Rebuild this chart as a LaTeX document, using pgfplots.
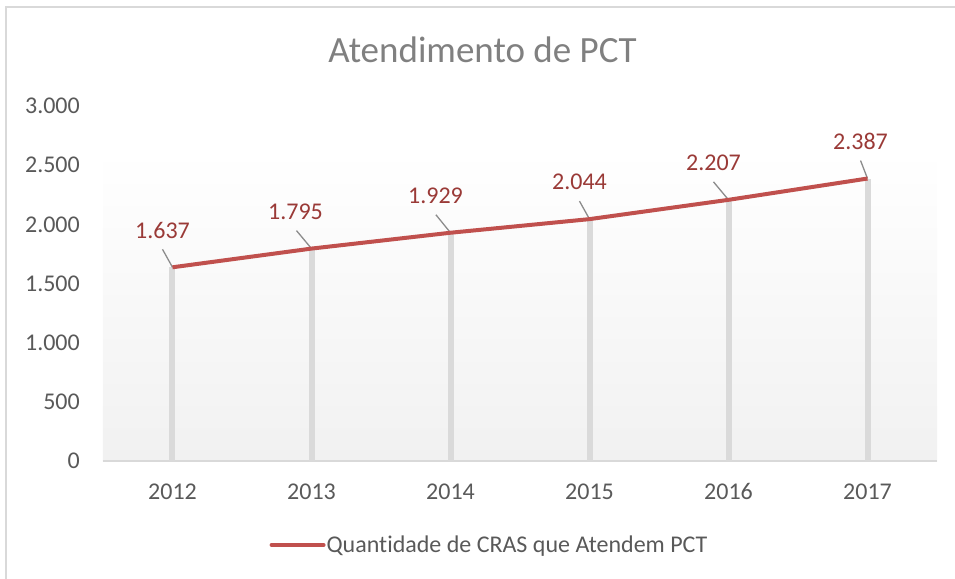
\documentclass[border=0pt]{standalone}
\usepackage{pgfplots}
\pgfplotsset{compat=1.18}
\usepackage{pgfplotstable}
\usepackage{fontspec}
\setmainfont{Carlito}[Ligatures=NoCommon]
\definecolor{linered}{HTML}{C0504D}
\definecolor{labelred}{HTML}{9A3A37}
\definecolor{tickgray}{HTML}{595959}
\definecolor{titlegray}{HTML}{808080}
\definecolor{axgray}{HTML}{D9D9D9}
\definecolor{dropgray}{HTML}{DADADA}
\definecolor{bggray}{HTML}{F1F1F1}
\definecolor{leadgray}{HTML}{8C8C8C}
\definecolor{bordergray}{HTML}{D9D9D9}

\pgfplotstableread{
x y lbl lx u
0 1637 1.637 -10 -0.072
1 1795 1.795 -16 -0.108
2 1929 1.929 -15 -0.105
3 2044 2.044 -10 -0.072
4 2207 2.207 -15 -0.108
5 2387 2.387 -7 -0.050
}\data

\begin{document}
\begin{tikzpicture}
\begin{axis}[
  at={(0,0)}, anchor=south west,
  scale only axis, width=834bp, height=355bp,
  xmin=-0.5, xmax=5.5, ymin=0, ymax=3000,
  axis x line=bottom, axis y line=left,
  x axis line style={-, draw=axgray, line width=1.5bp},
  y axis line style={draw=none},
  xtick={0,1,2,3,4,5},
  xticklabels={2012,2013,2014,2015,2016,2017},
  ytick={0,500,1000,1500,2000,2500,3000},
  yticklabels={0,500,1.000,1.500,2.000,2.500,3.000},
  major tick length=0pt,
  tick style={draw=none},
  ticklabel style={font=\fontsize{24bp}{28bp}\selectfont, text=tickgray, inner sep=0pt},
  yticklabel style={anchor=east, xshift=-23bp},
  xticklabel style={anchor=base, yshift=-38bp},
  clip=false,
  legend style={at={(0.4628,-0.2366)}, anchor=center, draw=none, fill=none,
    font=\fontsize{24bp}{28bp}\selectfont, text=tickgray,
    nodes={inner sep=1bp}},
  legend image code/.code={\draw[#1, line width=4bp, line cap=round] (0bp,0bp) -- (52bp,0bp);},
]
\fill[top color=white, bottom color=bggray] (axis cs:-0.5,0) rectangle (axis cs:5.5,2628);
\draw[axgray, line width=1.5bp] (axis cs:-0.5,0) -- (axis cs:5.5,0);
\addplot[ycomb, draw=dropgray, line width=6bp, no marks, forget plot] table[x=x,y=y] {\data};
\addplot[quiver={u=\thisrow{u}, v=152}, draw=leadgray, line width=1.3bp, no marks, forget plot] table[x=x,y=y] {\data};
\addplot[color=linered, line width=4bp, line join=round, no marks,
  nodes near coords, point meta=explicit symbolic,
  visualization depends on={\thisrow{lx} \as \lx},
  nodes near coords style={anchor=center, xshift=\lx bp, yshift=37bp,
    font=\fontsize{24bp}{28bp}\selectfont, text=labelred, inner sep=0pt}]
  table[x=x,y=y,meta=lbl] {\data};
\addlegendentry{Quantidade de CRAS que Atendem PCT}
\end{axis}
\node[anchor=base, text=titlegray, font=\fontsize{37bp}{42bp}\selectfont, inner sep=0pt] at (379.5bp,398bp) {Atendimento de PCT};
\draw[bordergray, line width=1.5bp] (-97bp,-118bp) -- (-97bp,454bp) -- (852bp,454bp);
\pgfresetboundingbox
\path[use as bounding box] (-103bp,-118bp) rectangle (852bp,461bp);
\end{tikzpicture}
\end{document}
